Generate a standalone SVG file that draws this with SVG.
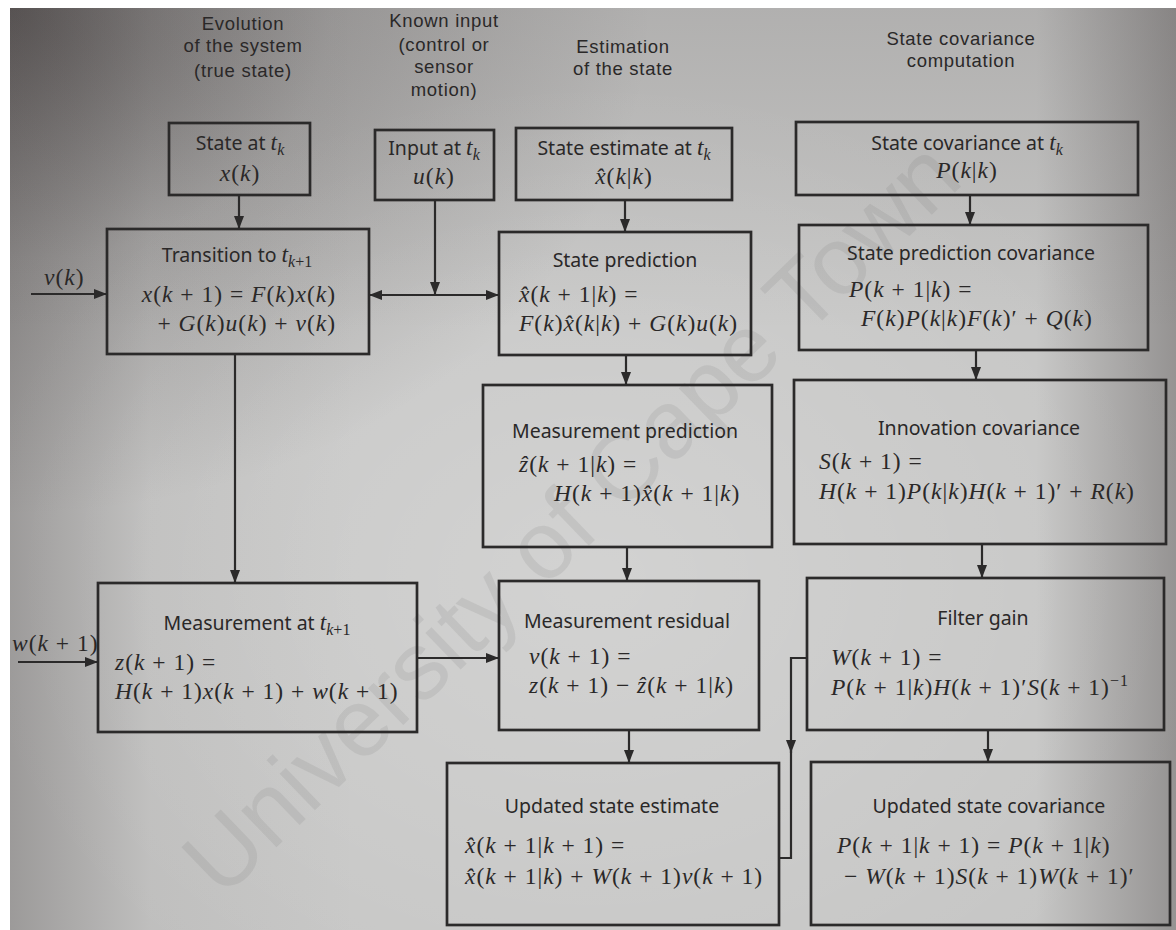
<svg xmlns="http://www.w3.org/2000/svg" width="1176" height="930" viewBox="0 0 1176 930">
<defs>
<radialGradient id="ctr" cx="0.5" cy="0.62" r="0.55">
<stop offset="0" stop-color="#ffffff" stop-opacity="0.22"/>
<stop offset="1" stop-color="#ffffff" stop-opacity="0"/>
</radialGradient>
<radialGradient id="tl" cx="0" cy="0" r="0.55">
<stop offset="0" stop-color="#2e2828" stop-opacity="0.6"/>
<stop offset="0.5" stop-color="#2e2828" stop-opacity="0.2"/>
<stop offset="1" stop-color="#2e2828" stop-opacity="0"/>
</radialGradient>
<linearGradient id="lft" x1="0" y1="0" x2="1" y2="0">
<stop offset="0" stop-color="#3a3434" stop-opacity="0.3"/>
<stop offset="0.12" stop-color="#3a3434" stop-opacity="0.05"/>
<stop offset="0.3" stop-color="#3a3434" stop-opacity="0"/>
<stop offset="0.88" stop-color="#3a3434" stop-opacity="0"/>
<stop offset="1" stop-color="#3a3434" stop-opacity="0.35"/>
</linearGradient>
<linearGradient id="top" x1="0" y1="0" x2="0" y2="1">
<stop offset="0" stop-color="#3a3434" stop-opacity="0.15"/>
<stop offset="0.35" stop-color="#3a3434" stop-opacity="0"/>
</linearGradient>
<marker id="ah" viewBox="0 0 13 10" refX="13" refY="5" markerWidth="13" markerHeight="10" markerUnits="userSpaceOnUse" orient="auto">
<path d="M0,0 L13,5 L0,10 z" fill="#2b2a2a"/>
</marker>
<style>
.h{font-family:"Liberation Sans",sans-serif;font-size:18.5px;fill:#2a2828;text-anchor:middle;letter-spacing:0.7px}
.t{font-family:"Noto Sans","Liberation Sans",sans-serif;font-size:19.5px;fill:#2a2828;text-anchor:middle}
.m{font-family:"Liberation Serif",serif;font-size:23.5px;fill:#2a2828;letter-spacing:1px}
.i{font-style:italic}
.v{font-family:"Liberation Serif",serif;font-style:italic;font-size:23.5px}
.sb{font-family:"Liberation Serif",serif;font-size:16px}
.box{fill:none;stroke:#2b2a2a;stroke-width:2.7}
.ln{fill:none;stroke:#2b2a2a;stroke-width:2.2}
.wm{font-family:"Liberation Sans",sans-serif;font-size:96px;fill:#6e6e6e;fill-opacity:0.14}
</style>
</defs>
<rect width="1176" height="930" fill="#ffffff"/>
<rect x="10" y="8" width="1166" height="922" fill="#c6c6c5"/>
<rect x="10" y="8" width="1166" height="922" fill="url(#ctr)"/>
<rect x="10" y="8" width="1166" height="922" fill="url(#tl)"/>
<rect x="10" y="8" width="1166" height="922" fill="url(#lft)"/>
<rect x="10" y="8" width="1166" height="922" fill="url(#top)"/>
<text class="wm" x="222" y="900" transform="rotate(-44 222 900)">University of Cape Town</text>

<g id="headers">
<text class="h" x="243" y="30">Evolution</text>
<text class="h" x="243" y="52">of the system</text>
<text class="h" x="243" y="77">(true state)</text>
<text class="h" x="444" y="27">Known input</text>
<text class="h" x="444" y="51">(control or</text>
<text class="h" x="444" y="73">sensor</text>
<text class="h" x="444" y="96">motion)</text>
<text class="h" x="623" y="53">Estimation</text>
<text class="h" x="623" y="75">of the state</text>
<text class="h" x="961" y="45">State covariance</text>
<text class="h" x="961" y="67">computation</text>
</g>

<g id="state-tk">
<rect class="box" x="169" y="123" width="141" height="72"/>
<text class="t" x="240" y="150">State at <tspan class="v">t</tspan><tspan class="sb i" dy="5">k</tspan></text>
<text class="m" x="240" y="181" text-anchor="middle"><tspan class="i">x</tspan>(<tspan class="i">k</tspan>)</text>
</g>

<g id="input-tk">
<rect class="box" x="375" y="130" width="119" height="70"/>
<text class="t" x="434" y="155">Input at <tspan class="v">t</tspan><tspan class="sb i" dy="5">k</tspan></text>
<text class="m" x="434" y="184" text-anchor="middle"><tspan class="i">u</tspan>(<tspan class="i">k</tspan>)</text>
</g>

<g id="state-estimate-tk">
<rect class="box" x="516" y="128" width="216" height="72"/>
<text class="t" x="624" y="155">State estimate at <tspan class="v">t</tspan><tspan class="sb i" dy="5">k</tspan></text>
<text class="m" x="624" y="184" text-anchor="middle"><tspan class="i">x̂</tspan>(<tspan class="i">k</tspan>|<tspan class="i">k</tspan>)</text>
</g>

<g id="state-covariance-tk">
<rect class="box" x="796" y="122" width="342" height="73"/>
<text class="t" x="967" y="150">State covariance at <tspan class="v">t</tspan><tspan class="sb i" dy="5">k</tspan></text>
<text class="m" x="967" y="178" text-anchor="middle"><tspan class="i">P</tspan>(<tspan class="i">k</tspan>|<tspan class="i">k</tspan>)</text>
</g>

<g id="transition">
<rect class="box" x="107" y="229" width="262" height="125"/>
<text class="t" x="237" y="262">Transition to <tspan class="v">t</tspan><tspan class="sb" dy="5"><tspan class="i">k</tspan>+1</tspan></text>
<text class="m" x="336" y="302" text-anchor="end"><tspan class="i">x</tspan>(<tspan class="i">k</tspan> + 1) = <tspan class="i">F</tspan>(<tspan class="i">k</tspan>)<tspan class="i">x</tspan>(<tspan class="i">k</tspan>)</text>
<text class="m" x="336" y="331" text-anchor="end">+ <tspan class="i">G</tspan>(<tspan class="i">k</tspan>)<tspan class="i">u</tspan>(<tspan class="i">k</tspan>) + <tspan class="i">v</tspan>(<tspan class="i">k</tspan>)</text>
</g>

<g id="state-prediction">
<rect class="box" x="499" y="232" width="252" height="123"/>
<text class="t" x="625" y="267">State prediction</text>
<text class="m" x="519" y="302"><tspan class="i">x̂</tspan>(<tspan class="i">k</tspan> + 1|<tspan class="i">k</tspan>) =</text>
<text class="m" x="519" y="331"><tspan class="i">F</tspan>(<tspan class="i">k</tspan>)<tspan class="i">x̂</tspan>(<tspan class="i">k</tspan>|<tspan class="i">k</tspan>) + <tspan class="i">G</tspan>(<tspan class="i">k</tspan>)<tspan class="i">u</tspan>(<tspan class="i">k</tspan>)</text>
</g>

<g id="state-prediction-covariance">
<rect class="box" x="799" y="225" width="349" height="125"/>
<text class="t" x="971" y="260">State prediction covariance</text>
<text class="m" x="849" y="297"><tspan class="i">P</tspan>(<tspan class="i">k</tspan> + 1|<tspan class="i">k</tspan>) =</text>
<text class="m" x="861" y="326"><tspan class="i">F</tspan>(<tspan class="i">k</tspan>)<tspan class="i">P</tspan>(<tspan class="i">k</tspan>|<tspan class="i">k</tspan>)<tspan class="i">F</tspan>(<tspan class="i">k</tspan>)′ + <tspan class="i">Q</tspan>(<tspan class="i">k</tspan>)</text>
</g>

<g id="measurement-prediction">
<rect class="box" x="483" y="385" width="289" height="162"/>
<text class="t" x="625" y="438">Measurement prediction</text>
<text class="m" x="519" y="472"><tspan class="i">ẑ</tspan>(<tspan class="i">k</tspan> + 1|<tspan class="i">k</tspan>) =</text>
<text class="m" x="554" y="501"><tspan class="i">H</tspan>(<tspan class="i">k</tspan> + 1)<tspan class="i">x̂</tspan>(<tspan class="i">k</tspan> + 1|<tspan class="i">k</tspan>)</text>
</g>

<g id="innovation-covariance">
<rect class="box" x="794" y="380" width="372" height="164"/>
<text class="t" x="979" y="435">Innovation covariance</text>
<text class="m" x="819" y="469"><tspan class="i">S</tspan>(<tspan class="i">k</tspan> + 1) =</text>
<text class="m" x="819" y="499"><tspan class="i">H</tspan>(<tspan class="i">k</tspan> + 1)<tspan class="i">P</tspan>(<tspan class="i">k</tspan>|<tspan class="i">k</tspan>)<tspan class="i">H</tspan>(<tspan class="i">k</tspan> + 1)′ + <tspan class="i">R</tspan>(<tspan class="i">k</tspan>)</text>
</g>

<g id="measurement">
<rect class="box" x="98" y="583" width="319" height="149"/>
<text class="t" x="257" y="630">Measurement at <tspan class="v">t</tspan><tspan class="sb" dy="5"><tspan class="i">k</tspan>+1</tspan></text>
<text class="m" x="115" y="670"><tspan class="i">z</tspan>(<tspan class="i">k</tspan> + 1) =</text>
<text class="m" x="115" y="699"><tspan class="i">H</tspan>(<tspan class="i">k</tspan> + 1)<tspan class="i">x</tspan>(<tspan class="i">k</tspan> + 1) + <tspan class="i">w</tspan>(<tspan class="i">k</tspan> + 1)</text>
</g>

<g id="measurement-residual">
<rect class="box" x="499" y="581" width="260" height="149"/>
<text class="t" x="627" y="628">Measurement residual</text>
<text class="m" x="529" y="664"><tspan class="i">ν</tspan>(<tspan class="i">k</tspan> + 1) =</text>
<text class="m" x="529" y="693"><tspan class="i">z</tspan>(<tspan class="i">k</tspan> + 1) − <tspan class="i">ẑ</tspan>(<tspan class="i">k</tspan> + 1|<tspan class="i">k</tspan>)</text>
</g>

<g id="filter-gain">
<rect class="box" x="807" y="578" width="357" height="152"/>
<text class="t" x="983" y="625">Filter gain</text>
<text class="m" x="831" y="665"><tspan class="i">W</tspan>(<tspan class="i">k</tspan> + 1) =</text>
<text class="m" x="831" y="695"><tspan class="i">P</tspan>(<tspan class="i">k</tspan> + 1|<tspan class="i">k</tspan>)<tspan class="i">H</tspan>(<tspan class="i">k</tspan> + 1)′<tspan class="i">S</tspan>(<tspan class="i">k</tspan> + 1)<tspan class="sb" dy="-9">−1</tspan></text>
</g>

<g id="updated-state-estimate">
<rect class="box" x="447" y="763" width="332" height="162"/>
<text class="t" x="612" y="813">Updated state estimate</text>
<text class="m" x="465" y="853"><tspan class="i">x̂</tspan>(<tspan class="i">k</tspan> + 1|<tspan class="i">k</tspan> + 1) =</text>
<text class="m" x="465" y="884"><tspan class="i">x̂</tspan>(<tspan class="i">k</tspan> + 1|<tspan class="i">k</tspan>) + <tspan class="i">W</tspan>(<tspan class="i">k</tspan> + 1)<tspan class="i">ν</tspan>(<tspan class="i">k</tspan> + 1)</text>
</g>

<g id="updated-state-covariance">
<rect class="box" x="811" y="762" width="359" height="163"/>
<text class="t" x="989" y="813">Updated state covariance</text>
<text class="m" x="837" y="853"><tspan class="i">P</tspan>(<tspan class="i">k</tspan> + 1|<tspan class="i">k</tspan> + 1) = <tspan class="i">P</tspan>(<tspan class="i">k</tspan> + 1|<tspan class="i">k</tspan>)</text>
<text class="m" x="844" y="884">− <tspan class="i">W</tspan>(<tspan class="i">k</tspan> + 1)<tspan class="i">S</tspan>(<tspan class="i">k</tspan> + 1)<tspan class="i">W</tspan>(<tspan class="i">k</tspan> + 1)′</text>
</g>

<g id="inputs">
<text class="m" x="44" y="285"><tspan class="i">v</tspan>(<tspan class="i">k</tspan>)</text>
<text class="m" x="12" y="651"><tspan class="i">w</tspan>(<tspan class="i">k</tspan> + 1)</text>
</g>

<g id="connectors">
<path class="ln" d="M239,195 V229" marker-end="url(#ah)"/>
<path class="ln" d="M625,200 V232" marker-end="url(#ah)"/>
<path class="ln" d="M970,195 V225" marker-end="url(#ah)"/>
<path class="ln" d="M435,200 V295" marker-end="url(#ah)"/>
<path class="ln" d="M435,295 H369" marker-end="url(#ah)"/>
<path class="ln" d="M435,295 H499" marker-end="url(#ah)"/>
<path class="ln" d="M31,294 H107" marker-end="url(#ah)"/>
<path class="ln" d="M235,354 V583" marker-end="url(#ah)"/>
<path class="ln" d="M626,355 V385" marker-end="url(#ah)"/>
<path class="ln" d="M976,350 V380" marker-end="url(#ah)"/>
<path class="ln" d="M627,547 V581" marker-end="url(#ah)"/>
<path class="ln" d="M982,544 V578" marker-end="url(#ah)"/>
<path class="ln" d="M18,662 H98" marker-end="url(#ah)"/>
<path class="ln" d="M417,658 H499" marker-end="url(#ah)"/>
<path class="ln" d="M629,730 V763" marker-end="url(#ah)"/>
<path class="ln" d="M988,730 V762" marker-end="url(#ah)"/>
<path class="ln" d="M807,658 H791 V753" marker-end="url(#ah)"/>
<path class="ln" d="M791,750 V858 H779"/>
</g>
</svg>
